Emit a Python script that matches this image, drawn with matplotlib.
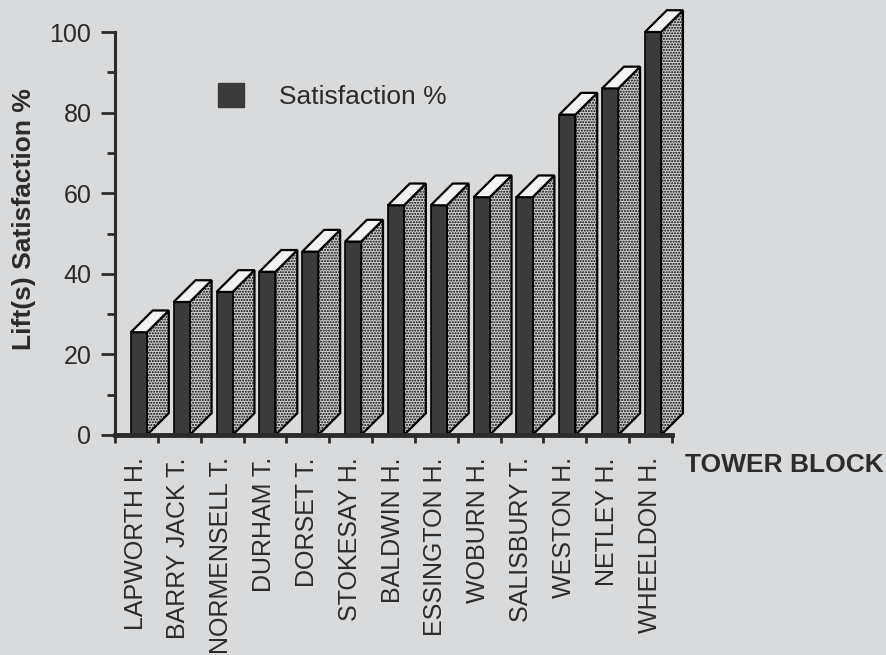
import matplotlib
matplotlib.use("Agg")
import matplotlib.pyplot as plt
from matplotlib.patches import Polygon, Patch
from matplotlib.ticker import MultipleLocator
import numpy as np

blocks = ["LAPWORTH H.", "BARRY JACK T.", "NORMENSELL T.", "DURHAM T.", "DORSET T.",
          "STOKESAY H.", "BALDWIN H.", "ESSINGTON H.", "WOBURN H.", "SALISBURY T.",
          "WESTON H.", "NETLEY H.", "WHEELDON H."]
satisfaction = [25.5, 33, 35.5, 40.5, 45.5, 48, 57, 57, 59, 59, 79.5, 86, 100]

BG = "#d9dadb"
INK = "#2b2b2b"
FRONT = "#3b3b3b"

plt.rcParams["font.family"] = ["Liberation Sans", "DejaVu Sans"]
plt.rcParams["hatch.linewidth"] = 1.0
plt.rcParams["hatch.color"] = "#3a3a3a"

fig = plt.figure(figsize=(8.86, 6.55), dpi=100, facecolor=BG)
ax = fig.add_axes([115 / 886, 1 - 435 / 655, 557 / 886, 403 / 655])
ax.set_facecolor(BG)

x = np.arange(len(blocks))
left = x - 0.13
width = 0.375
# depth of the fake 3d bars, in data units
dx, dy = 0.51, 5.4

ax.bar(left, satisfaction, width=width, align="edge", color=FRONT,
       edgecolor="black", linewidth=1.2, zorder=3, clip_on=False)

for l, v in zip(left, satisfaction):
    r = l + width
    side = Polygon([(r, 0), (r + dx, dy), (r + dx, v + dy), (r, v)], closed=True,
                   facecolor="#d0d0d0", edgecolor="black", hatch="......",
                   linewidth=1.6, zorder=2, clip_on=False)
    top = Polygon([(l, v), (l + dx, v + dy), (r + dx, v + dy), (r, v)], closed=True,
                  facecolor="#f2f2f2", edgecolor="black", linewidth=1.6,
                  zorder=4, clip_on=False)
    ax.add_patch(side)
    ax.add_patch(top)

ax.set_xlim(-0.5, len(blocks) - 0.5)
ax.set_ylim(0, 100)

for s in ["top", "right"]:
    ax.spines[s].set_visible(False)
ax.spines["left"].set_linewidth(2.2)
ax.spines["bottom"].set_linewidth(3.5)
ax.spines["left"].set_color(INK)
ax.spines["bottom"].set_color(INK)
ax.spines["bottom"].set_zorder(5)

ax.yaxis.set_major_locator(MultipleLocator(20))
ax.yaxis.set_minor_locator(MultipleLocator(10))
ax.tick_params(axis="y", which="major", length=10, width=2, direction="out",
               color=INK, labelsize=18, labelcolor=INK, pad=7)
ax.tick_params(axis="y", which="minor", length=6, width=2, direction="out", color=INK)

ax.set_xticks(np.arange(len(blocks) + 1) - 0.5, minor=True)
ax.set_xticks(x - 0.02)
ax.set_xticklabels(blocks, rotation=90, ha="center", va="top")
ax.tick_params(axis="x", which="major", length=0, labelsize=18, labelcolor=INK, pad=16)
ax.tick_params(axis="x", which="minor", length=6, width=2, direction="out", color=INK)

fig.text(24 / 886, 1 - 219 / 655, "Lift(s) Satisfaction %", rotation=90,
         ha="center", va="center", fontsize=19, fontweight="bold", color=INK)
fig.text(685 / 886, 1 - 465 / 655, "TOWER BLOCK", ha="left", va="center",
         fontsize=19, fontweight="bold", color=INK)

handle = Patch(facecolor=FRONT, edgecolor=FRONT)
ax.legend([handle], ["Satisfaction %"], loc="upper left",
          bbox_to_anchor=(218 / 886, 1 - 83 / 655), bbox_transform=fig.transFigure,
          frameon=False, fontsize=19, handlelength=1.0, handleheight=1.0,
          handletextpad=1.3, borderpad=0, borderaxespad=0, labelcolor=INK)

fig.savefig("out.png", dpi=100, facecolor=BG)
